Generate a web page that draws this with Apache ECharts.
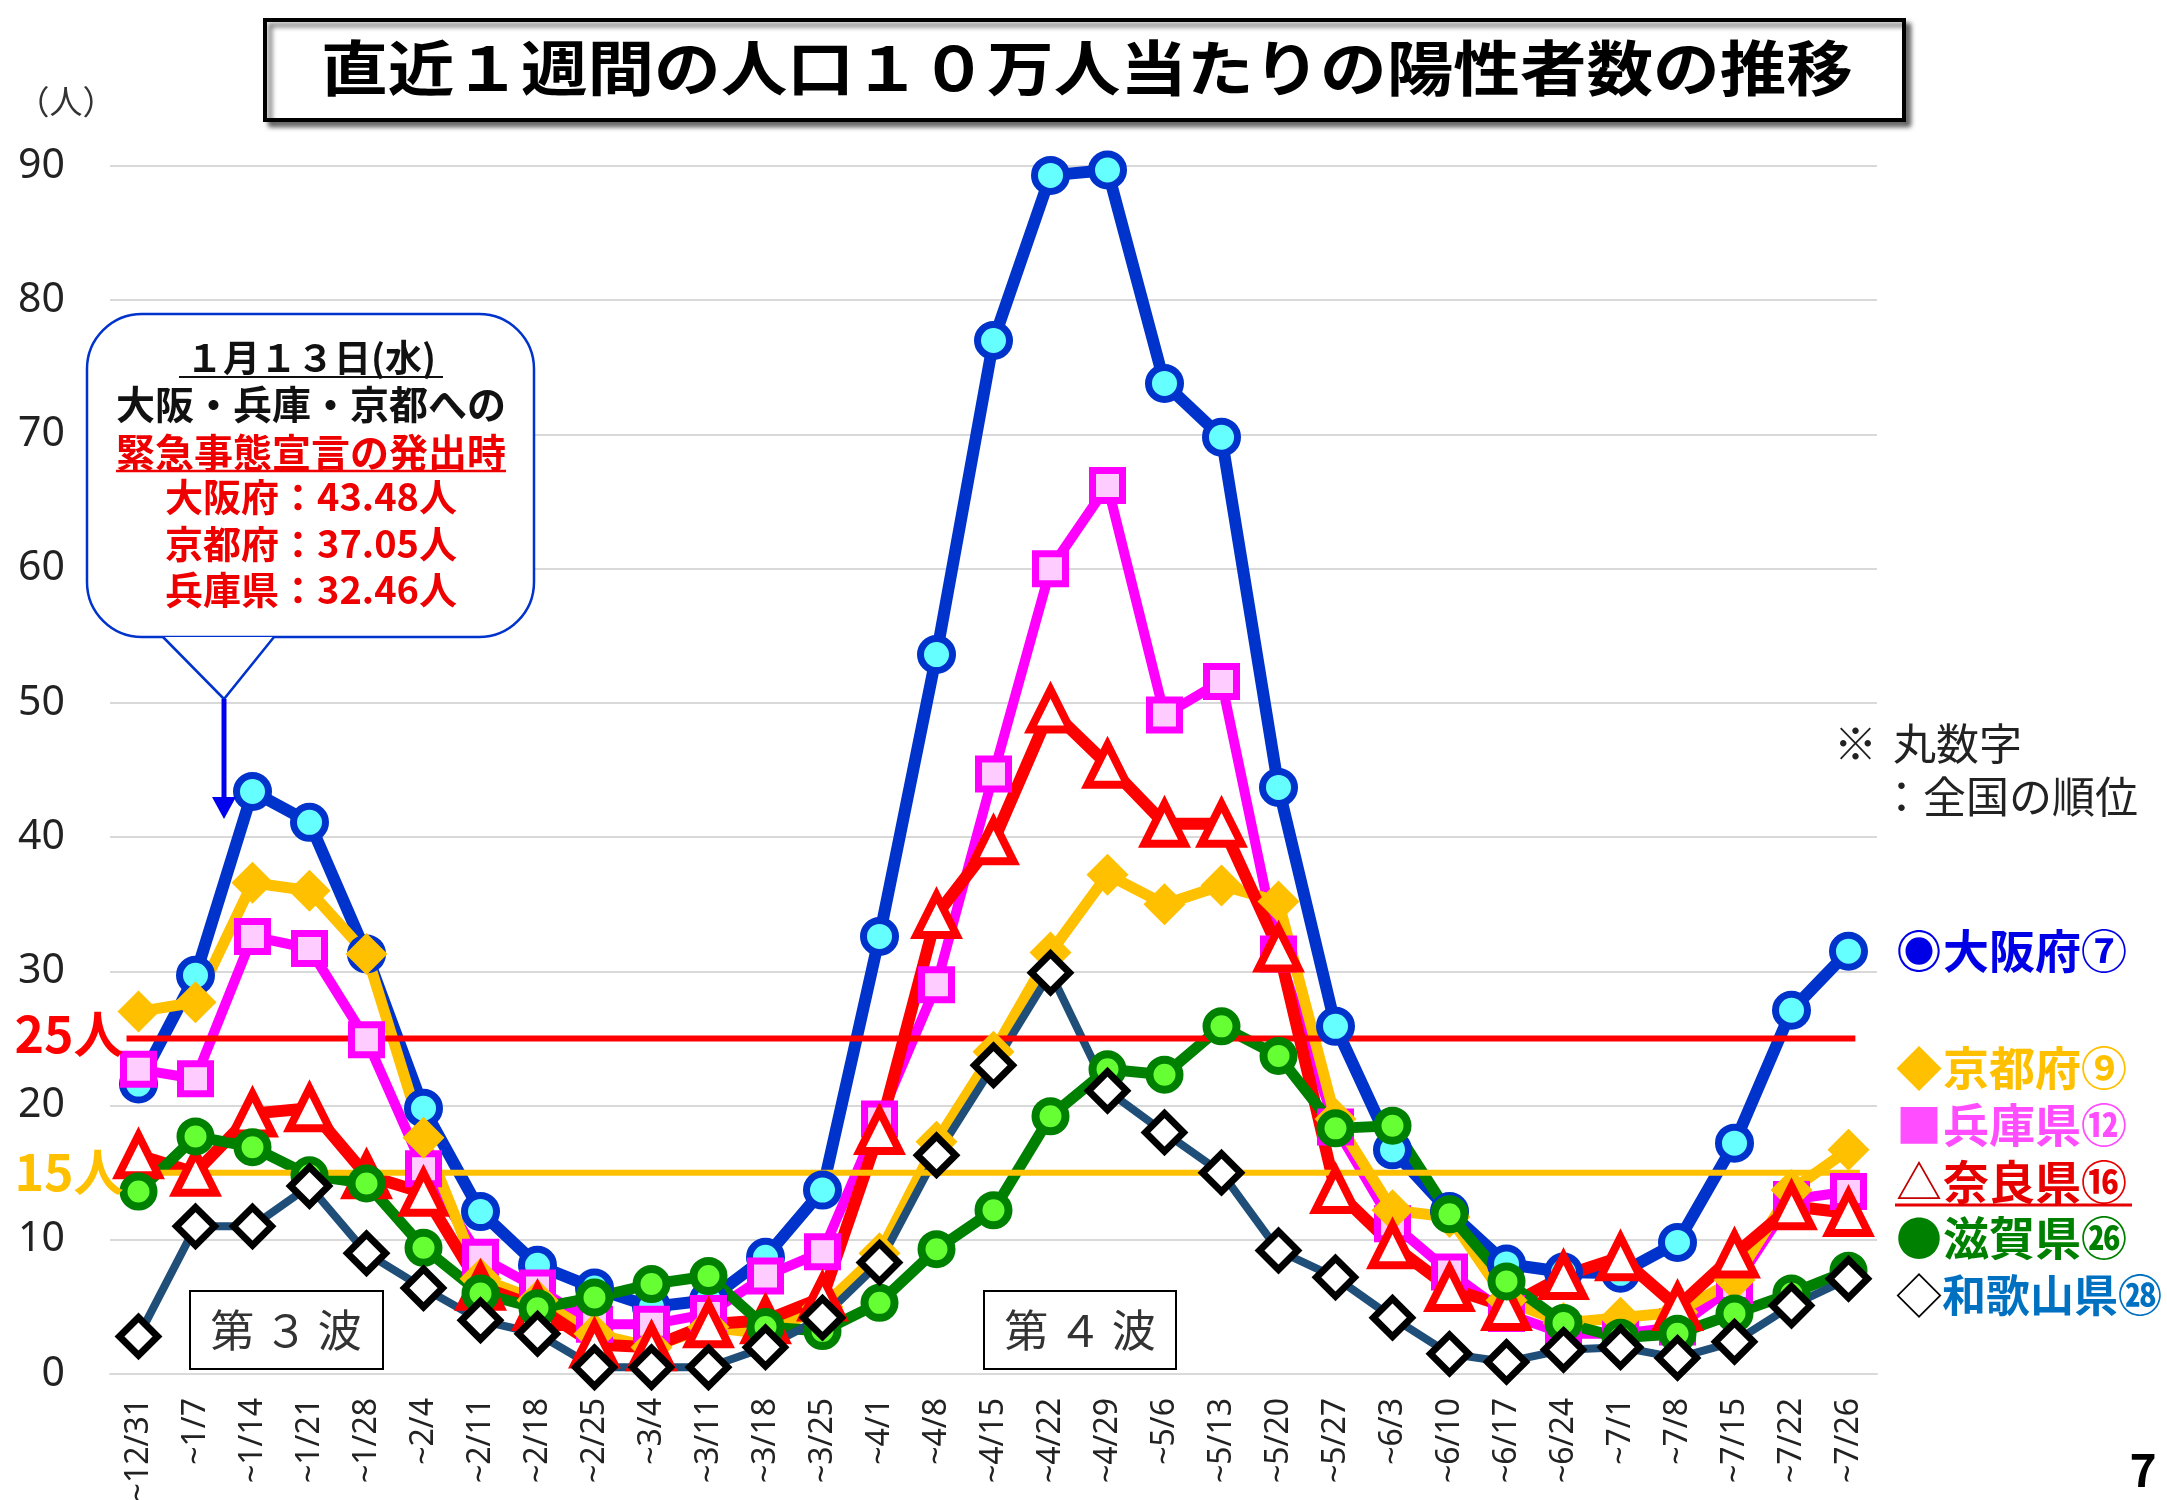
<!DOCTYPE html>
<html><head><meta charset="utf-8">
<style>html,body{margin:0;padding:0;background:#fff}#c{width:2167px;height:1500px}</style>
<script src="https://cdn.jsdelivr.net/npm/echarts@6/dist/echarts.min.js"></script>
</head><body><div id="c"></div>
<script>
const categories = ['~12/31','~1/7','~1/14','~1/21','~1/28','~2/4','~2/11','~2/18','~2/25','~3/4','~3/11','~3/18','~3/25','~4/1','~4/8','~4/15','~4/22','~4/29','~5/6','~5/13','~5/20','~5/27','~6/3','~6/10','~6/17','~6/24','~7/1','~7/8','~7/15','~7/22','~7/26'];
const osaka    = [21.6,29.7,43.4,41.1,31.3,19.8,12.1,8.1,6.4,5.0,5.5,8.7,13.7,32.6,53.6,77.0,89.3,89.7,73.8,69.8,43.7,25.9,16.7,12.1,8.2,7.6,7.5,9.8,17.2,27.1,31.5];
const hyogo    = [22.7,22.0,32.6,31.7,24.9,15.3,8.7,6.4,3.7,3.7,4.5,7.3,9.1,19.0,29.0,44.7,60.0,66.2,49.1,51.6,31.3,18.4,11.2,7.6,4.5,3.0,3.0,3.5,6.6,13.0,13.6];
const kyoto    = [27.0,27.7,36.6,36.0,31.3,17.6,7.1,5.5,3.0,2.0,3.5,3.0,5.0,9.0,17.3,24.0,31.4,37.2,35.0,36.4,35.2,19.0,12.2,11.7,5.5,3.8,4.2,4.6,7.0,13.7,16.7];
const nara     = [16.3,15.0,19.4,19.8,14.8,13.5,6.5,5.0,2.2,2.0,3.7,4.0,5.7,18.1,34.2,39.7,49.5,45.4,41.0,41.0,31.7,13.7,9.6,6.4,5.0,7.3,8.7,5.0,8.9,12.5,12.0];
const shiga    = [13.6,17.7,16.9,14.8,14.2,9.4,6.0,4.9,5.7,6.7,7.3,3.5,3.2,5.3,9.3,12.2,19.2,22.7,22.3,25.9,23.7,18.3,18.5,11.9,6.9,3.8,2.7,3.0,4.5,6.0,7.7];
const wakayama = [2.8,11.0,11.0,14.0,9.0,6.4,4.0,3.0,0.5,0.5,0.5,2.0,4.2,8.3,16.3,23.0,29.9,21.1,18.0,15.0,9.2,7.2,4.2,1.5,0.9,1.8,2.0,1.2,2.4,5.1,7.1];
const line25 = [[-0.21,25],[30.12,25]];
const line15 = [[-0.25,15],[30.2,15]];
const yTicks = {min:0,max:90,interval:10};

const JP = '"Noto Sans CJK JP"';
function lineSeries(name,data,color,width,symbol,size,fill,border,bc){
  return {name,type:'line',data,clip:false,smooth:false,symbol,symbolSize:size,showSymbol:true,
    lineStyle:{color,width,join:'round'},
    itemStyle:{color:fill,borderColor:bc||color,borderWidth:border,opacity:1},emphasis:{disabled:true},animation:false};
}
function refLine(name,data,color){
  return {name,type:'line',xAxisIndex:1,data,symbol:'none',lineStyle:{color,width:6},clip:false,animation:false,emphasis:{disabled:true}};
}
function txt(text,x,y,size,color,opt){
  opt=opt||{};
  return Object.assign({type:'text',x,y,z:100,silent:true,style:{text,fontSize:size,fontFamily:opt.family||JP,fontWeight:opt.weight||'normal',fill:color,textAlign:opt.align||'center',textVerticalAlign:'middle'}},opt.el||{});
}
function hline(x1,x2,y,color,w){return {type:'line',z:100,silent:true,shape:{x1,y1:y,x2,y2:y},style:{stroke:color,lineWidth:w}};}
function box(x,y,w,h,lw,shadow){
  const s={fill:'#fff',stroke:'#000',lineWidth:lw};
  if(shadow){s.shadowColor='rgba(0,0,0,0.55)';s.shadowBlur=5;s.shadowOffsetX=5;s.shadowOffsetY=5;}
  return {type:'rect',z:90,silent:true,shape:{x,y,width:w,height:h},style:s};
}
const red='#EE0000', blue='#0033CC';
const leg={align:'left',weight:'bold'};
const graphics=[
  box(265,20,1639,100,4,true),
  txt('直近１週間の人口１０万人当たりの陽性者数の推移',1087,68,60,'#000',{weight:'bold',el:{scaleX:1.11}}),
  txt('（人）',66,101,33,'#333'),
  // callout
  {type:'rect',z:90,silent:true,shape:{x:87,y:314,width:447,height:323,r:55},style:{fill:'#fff',stroke:blue,lineWidth:2.5}},
  {type:'polygon',z:91,silent:true,shape:{points:[[163,637],[224,699],[274,637]]},style:{fill:'#fff'}},
  {type:'polyline',z:91,silent:true,shape:{points:[[163,637],[224,699],[274,637]]},style:{fill:'none',stroke:blue,lineWidth:2.5}},
  txt('１月１３日(水)',311,358,37,'#111',{weight:'bold'}),
  hline(179,443,377,'#111',2),
  txt('大阪・兵庫・京都への',311,404,39,'#111',{weight:'bold'}),
  txt('緊急事態宣言の発出時',311,452,39,red,{weight:'bold'}),
  hline(116,506,471,red,2.5),
  txt('大阪府：43.48人',311,497,38,red,{weight:'bold'}),
  txt('京都府：37.05人',311,544,38,red,{weight:'bold'}),
  txt('兵庫県：32.46人',311,590,38,red,{weight:'bold'}),
  // arrow
  {type:'line',z:91,silent:true,shape:{x1:224,y1:699,x2:224,y2:800},style:{stroke:'#0000EE',lineWidth:5}},
  {type:'polygon',z:91,silent:true,shape:{points:[[212,797],[236,797],[224,819]]},style:{fill:'#0000EE'}},
  // threshold labels
  txt('25人',69,1034,50,'#FF0000',{weight:'bold'}),
  txt('15人',69,1172,50,'#FFC000',{weight:'bold'}),
  // wave boxes
  box(190,1291,193,78,2,false),
  txt('第 ３ 波',286,1330,44,'#333'),
  box(984,1291,192,78,2,false),
  txt('第 ４ 波',1080,1330,44,'#333'),
  // note
  txt('※',1834,744,43,'#222',{align:'left'}),
  txt('丸数字',1893,744,43,'#222',{align:'left'}),
  txt('：全国の順位',1880,797,43,'#222',{align:'left'}),
  // legend labels
  txt('◉',1896,951,46,'#0000E6',leg), txt('大阪府⑦',1943,951,46,'#0000E6',leg),
  txt('◆',1896,1068,46,'#FFC000',leg), txt('京都府⑨',1943,1068,46,'#FFC000',leg),
  txt('■',1896,1125,46,'#FF4DFF',leg), txt('兵庫県⑫',1943,1125,46,'#FF4DFF',leg),
  txt('△',1896,1182,46,'#C00000',{align:'left'}), txt('奈良県⑯',1943,1182,46,'#E60000',leg),
  hline(1895,2132,1205,'#E60000',3),
  txt('●',1896,1238,46,'#008000',leg), txt('滋賀県㉖',1943,1238,46,'#008000',leg),
  txt('◇',1896,1295,46,'#000000',{align:'left'}), txt('和歌山県㉘',1942,1295,44,'#0070C0',leg),
  txt('7',2143,1470,46,'#000',{weight:'bold'})
];

const chart=echarts.init(document.getElementById('c'),null,{width:2167,height:1500});
chart.setOption({
  animation:false,
  backgroundColor:'#fff',
  grid:{left:110,width:1767,top:166,height:1208,containLabel:false,outerBoundsMode:'none'},
  xAxis:[
    {type:'category',data:categories,boundaryGap:true,
      axisLine:{lineStyle:{color:'#d9d9d9',width:2}},axisTick:{show:false},
      axisLabel:{rotate:90,interval:0,margin:24,fontSize:32,color:'#222',fontFamily:'"Noto Sans"'}},
    {type:'value',min:-0.5,max:30.5,show:false}
  ],
  yAxis:{type:'value',min:yTicks.min,max:yTicks.max,interval:yTicks.interval,
    axisLine:{show:false},axisTick:{show:false},
    splitLine:{lineStyle:{color:'#d9d9d9',width:2}},
    axisLabel:{margin:45,fontSize:41,color:'#222',fontFamily:'"Noto Sans"',padding:[6,0,0,0]}},
  series:[
    lineSeries('大阪府',osaka,blue,12,'circle',32,'#66FFFF',7),
    lineSeries('兵庫県',hyogo,'#FF00FF',10,'rect',30,'#FFCCFF',7),
    lineSeries('京都府',kyoto,'#FFC000',11,'diamond',42,'#FFC000',0),
    lineSeries('奈良県',nara,'#FF0000',12,'triangle',40,'#FFFFFF',8),
    lineSeries('滋賀県',shiga,'#008000',11,'circle',30,'#66FF33',8),
    lineSeries('和歌山県',wakayama,'#1F4E79',8,'diamond',38,'#FFFFFF',7,'#000000'),
    refLine('25人',line25,'#FF0000'),
    refLine('15人',line15,'#FFC000')
  ],
  graphic:{elements:graphics}
});
</script></body></html>
